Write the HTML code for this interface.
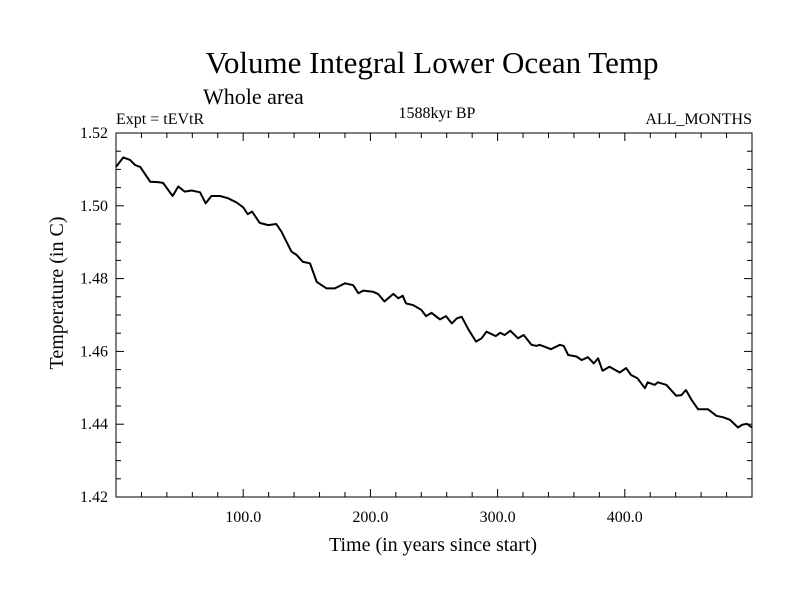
<!DOCTYPE html>
<html><head><meta charset="utf-8">
<style>
html,body{margin:0;padding:0;background:#fff;}
svg{display:block;font-family:"Liberation Serif",serif;}
</style></head>
<body>
<svg id="chart" width="800" height="600" viewBox="0 0 800 600">
<text x="432" y="73" font-size="31" text-anchor="middle">Volume Integral Lower Ocean Temp</text>
<text x="203" y="104" font-size="22">Whole area</text>
<text x="116" y="124" font-size="16">Expt = tEVtR</text>
<text x="437" y="118" font-size="16" text-anchor="middle">1588kyr BP</text>
<text x="752" y="124" font-size="16" text-anchor="end">ALL_MONTHS</text>
<text transform="translate(63,293) rotate(-90)" font-size="20" text-anchor="middle">Temperature (in C)</text>
<text x="433" y="551" font-size="20" text-anchor="middle">Time (in years since start)</text>
<g id="axes"></g>
<g id="series"></g>
</svg>
<script>
const years=[0,5.7,11,15,19,27,33,37,44.5,49,54,59.5,66,70.5,75,81.8,88,94.8,100,103.5,107,113,119.7,126,130,138,142,147,152.5,157.8,165.6,172,180,186.5,190.5,194.4,202,206,211,218,222,225.4,228,233.7,240,243.7,248,254.7,259.4,264,268,271.8,277,283,287.4,291.3,298.6,302,305.6,310,316,320.5,326.6,330.5,333,342,349,352,355.5,362,366,371,375.6,379,382.5,388,396,401,405,410,415.8,418,423.5,426,432.7,440.5,444.5,448,452.4,457.6,465.5,472,477.4,482.7,489,492,496,500];
const temps=[1.5107,1.5133,1.5126,1.5112,1.5107,1.5066,1.5065,1.5063,1.5027,1.5053,1.5039,1.5042,1.5037,1.5007,1.5027,1.5027,1.5021,1.5009,1.4996,1.4977,1.4984,1.4953,1.4947,1.4950,1.4929,1.4874,1.4865,1.4846,1.4842,1.4791,1.4773,1.4773,1.4787,1.4782,1.4760,1.4767,1.4764,1.4758,1.4737,1.4758,1.4746,1.4753,1.4732,1.4727,1.4714,1.4697,1.4706,1.4688,1.4697,1.4677,1.4691,1.4695,1.4661,1.4627,1.4636,1.4654,1.4642,1.4651,1.4645,1.4657,1.4636,1.4645,1.4618,1.4615,1.4618,1.4606,1.4618,1.4615,1.4590,1.4586,1.4576,1.4584,1.4567,1.4581,1.4547,1.4558,1.4542,1.4554,1.4535,1.4526,1.4499,1.4515,1.4508,1.4515,1.4508,1.4478,1.4480,1.4494,1.4467,1.4441,1.4441,1.4423,1.4419,1.4412,1.4391,1.4398,1.4401,1.4391];
const xTicks=[100,200,300,400];
const xTickLabels=["100.0","200.0","300.0","400.0"];
const yTicks=[1.42,1.44,1.46,1.48,1.50,1.52];
const yTickLabels=["1.42","1.44","1.46","1.48","1.50","1.52"];
const X0=116,X1=752,Y0=133,Y1=497,xMin=0,xMax=500,yMin=1.42,yMax=1.52;
function sx(t){return X0+(t-xMin)/(xMax-xMin)*(X1-X0);}
function sy(v){return Y1-(v-yMin)/(yMax-yMin)*(Y1-Y0);}
const NS="http://www.w3.org/2000/svg";
const axes=document.getElementById('axes');
function mk(tag,attrs,parent){const e=document.createElementNS(NS,tag);for(const k in attrs)e.setAttribute(k,attrs[k]);parent.appendChild(e);return e;}
const frame=mk('rect',{x:X0,y:Y0,width:X1-X0,height:Y1-Y0,fill:'none',stroke:'#000','stroke-width':1},axes);


// minor x ticks every 20 years
for(let t=20;t<xMax;t+=20){
  const major=t%100===0, len=major?8:5;
  const b=mk('line',{x1:sx(t),x2:sx(t),y1:Y1,y2:Y1-len,stroke:'#000'},axes);
  
  
  const tp=mk('line',{x1:sx(t),x2:sx(t),y1:Y0,y2:Y0+len,stroke:'#000'},axes);
  
  
}
xTicks.forEach((t,i)=>{
  const tx=mk('text',{x:sx(t),y:Y1+25,'font-size':16,'text-anchor':'middle'},axes);
  tx.textContent=xTickLabels[i];
  
  
});
// minor y ticks every 0.005
for(let k=1;k<20;k++){
  const v=yMin+k*0.005, major=k%4===0, len=major?8:5;
  const l=mk('line',{x1:X0,x2:X0+len,y1:sy(v),y2:sy(v),stroke:'#000'},axes);
  
  
  const r=mk('line',{x1:X1,x2:X1-len,y1:sy(v),y2:sy(v),stroke:'#000'},axes);
  
  
}
yTicks.forEach((v,i)=>{
  const ty=mk('text',{x:X0-8,y:sy(v)+5,'font-size':16,'text-anchor':'end'},axes);
  ty.textContent=yTickLabels[i];
  
  
});
const pts=years.map((t,i)=>sx(t).toFixed(1)+','+sy(temps[i]).toFixed(1)).join(' ');
const line=mk('polyline',{points:pts,fill:'none',stroke:'#000','stroke-width':2,'stroke-linejoin':'round'},document.getElementById('series'));


</script>
</body></html>
